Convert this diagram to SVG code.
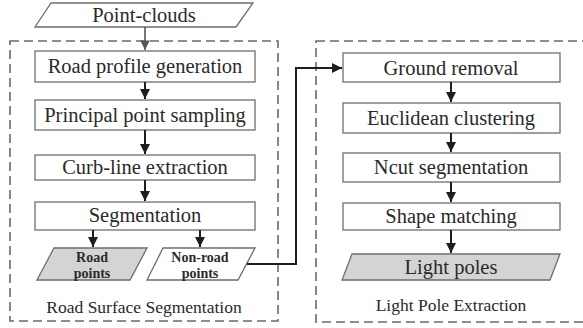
<svg xmlns="http://www.w3.org/2000/svg" width="583" height="328" viewBox="0 0 583 328">
  <style>
    .box { fill: #ffffff; stroke: #6e6e6e; stroke-width: 1.3; }
    .data { stroke: #6e6e6e; stroke-width: 1.3; }
    .group { fill: none; stroke: #6a6a6a; stroke-width: 1.6; stroke-dasharray: 9 5; }
    text { fill: #2a2a2a; text-anchor: middle; }
    .lbl { font-size: 20.5px; }
    .small { font-size: 14px; font-weight: bold; }
    .cap { font-size: 17.5px; }
    .wire { fill: none; stroke: #1e1e1e; stroke-width: 2; }
  </style>
  <defs>
    <marker id="arrow" viewBox="0 0 10 10" refX="10" refY="5" markerWidth="5" markerHeight="5" orient="auto" markerUnits="strokeWidth">
      <path d="M0,0 L10,5 L0,10 Z" fill="#1e1e1e"/>
    </marker>
    <marker id="arrowGray" viewBox="0 0 10 10" refX="10" refY="5" markerWidth="6" markerHeight="6" orient="auto" markerUnits="strokeWidth">
      <path d="M0,0 L10,5 L0,10 Z" fill="#555"/>
    </marker>
  </defs>

  <g font-family="Liberation Serif, Times New Roman, Tinos, Noto Serif, DejaVu Serif, serif">
  <!-- group frames -->
  <rect class="group" x="10" y="41" width="268" height="280"/>
  <rect class="group" x="316" y="41" width="280" height="281"/>
  <text class="cap" x="144" y="313">Road Surface Segmentation</text>
  <text class="cap" x="451" y="311">Light Pole Extraction</text>

  <!-- left column -->
  <g id="point-clouds">
    <polygon class="data" fill="#ffffff" points="51,3 253,3 236,27 35,27"/>
    <text class="lbl" x="144" y="22">Point-clouds</text>
  </g>
  <g id="road-profile">
    <rect class="box" x="35" y="51" width="220" height="31"/>
    <text class="lbl" x="145" y="73">Road profile generation</text>
  </g>
  <g id="principal-point">
    <rect class="box" x="35" y="100" width="220" height="30"/>
    <text class="lbl" x="145" y="122">Principal point sampling</text>
  </g>
  <g id="curb-line">
    <rect class="box" x="35" y="155" width="220" height="25"/>
    <text class="lbl" x="145" y="174">Curb-line extraction</text>
  </g>
  <g id="segmentation">
    <rect class="box" x="35" y="202" width="220" height="28"/>
    <text class="lbl" x="145" y="222">Segmentation</text>
  </g>
  <g id="road-points">
    <polygon class="data" fill="#d4d4d4" points="54,248 147,248 130,280 37,280"/>
    <text class="small" x="92" y="262">Road</text>
    <text class="small" x="92" y="278">points</text>
  </g>
  <g id="non-road-points">
    <polygon class="data" fill="#ffffff" points="163,248 255,248 238,280 147,280"/>
    <text class="small" x="200" y="262">Non-road</text>
    <text class="small" x="200" y="278">points</text>
  </g>

  <!-- right column -->
  <g id="ground-removal">
    <rect class="box" x="343" y="53" width="217" height="29"/>
    <text class="lbl" x="451" y="75">Ground removal</text>
  </g>
  <g id="euclidean">
    <rect class="box" x="343" y="103" width="217" height="30"/>
    <text class="lbl" x="451" y="125">Euclidean clustering</text>
  </g>
  <g id="ncut">
    <rect class="box" x="343" y="153" width="217" height="29"/>
    <text class="lbl" x="451" y="174">Ncut segmentation</text>
  </g>
  <g id="shape-matching">
    <rect class="box" x="343" y="203" width="217" height="27"/>
    <text class="lbl" x="451" y="223">Shape matching</text>
  </g>
  <g id="light-poles">
    <polygon class="data" fill="#d4d4d4" points="352,254 560,254 550,280 342,280"/>
    <text class="lbl" x="451" y="274">Light poles</text>
  </g>
  </g>

  <!-- connectors -->
  <g id="connectors">
    <line x1="145" y1="27" x2="145" y2="50" stroke="#555" stroke-width="1.6" marker-end="url(#arrowGray)"/>
    <line class="wire" x1="145" y1="82" x2="145" y2="99" marker-end="url(#arrow)"/>
    <line class="wire" x1="145" y1="130" x2="145" y2="154" marker-end="url(#arrow)"/>
    <line class="wire" x1="145" y1="180" x2="145" y2="201" marker-end="url(#arrow)"/>
    <line class="wire" x1="93" y1="230" x2="93" y2="247" marker-end="url(#arrow)"/>
    <line class="wire" x1="200" y1="230" x2="200" y2="247" marker-end="url(#arrow)"/>
    <polyline class="wire" points="247,264 296,264 296,68 342,68" marker-end="url(#arrow)"/>
    <line class="wire" x1="451" y1="82" x2="451" y2="102" marker-end="url(#arrow)"/>
    <line class="wire" x1="451" y1="133" x2="451" y2="152" marker-end="url(#arrow)"/>
    <line class="wire" x1="451" y1="182" x2="451" y2="202" marker-end="url(#arrow)"/>
    <line class="wire" x1="451" y1="230" x2="451" y2="253" marker-end="url(#arrow)"/>
  </g>
</svg>
